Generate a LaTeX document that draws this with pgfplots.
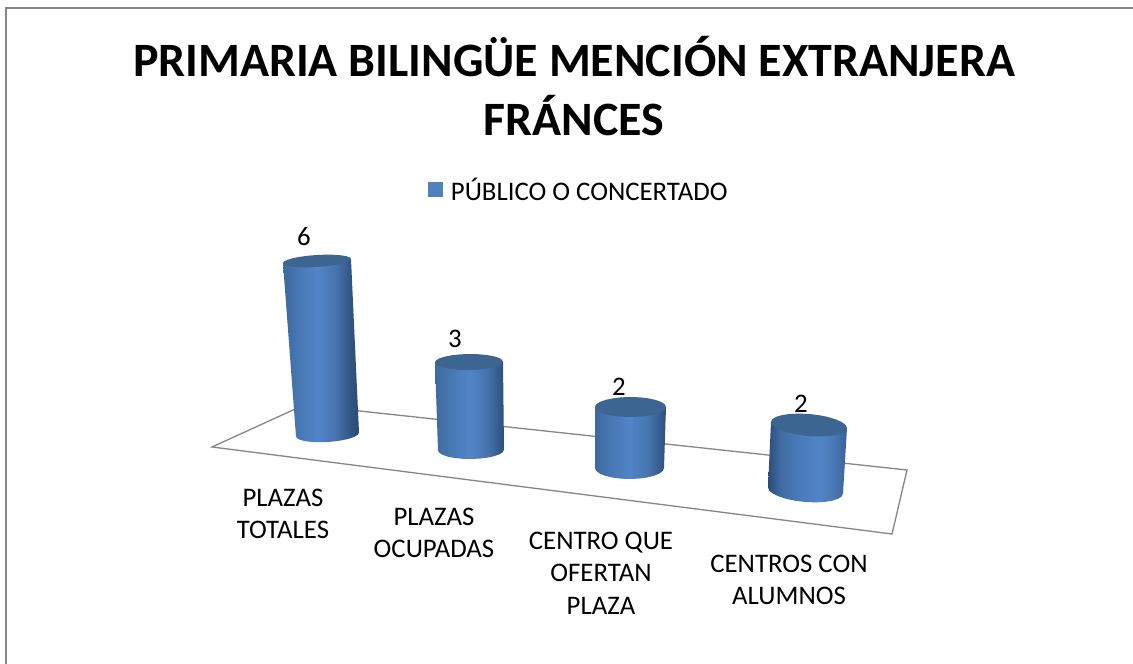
\documentclass[border=0pt]{standalone}
\usepackage{fontspec}
\setmainfont{Carlito}
\usepackage{pgfplots}
\usepackage{pgfplotstable}
\pgfplotsset{compat=1.18}

% cylinder side lighting (path spans 25bp..75bp)
\pgfdeclarehorizontalshading{cylA}{100bp}{rgb(0bp)=(.24,.41,.62); rgb(25bp)=(.24,.41,.62); rgb(34bp)=(.28,.46,.70); rgb(47bp)=(.32,.52,.78); rgb(60bp)=(.27,.45,.68); rgb(70bp)=(.19,.33,.50); rgb(75bp)=(.17,.29,.45); rgb(100bp)=(.17,.29,.45)}
\pgfdeclarehorizontalshading{cylB}{100bp}{rgb(0bp)=(.22,.38,.58); rgb(25bp)=(.24,.41,.62); rgb(36bp)=(.28,.47,.70); rgb(50bp)=(.32,.52,.78); rgb(63bp)=(.27,.45,.68); rgb(75bp)=(.18,.31,.48); rgb(100bp)=(.18,.31,.48)}
\pgfdeclarehorizontalshading{cylC}{100bp}{rgb(0bp)=(.17,.30,.47); rgb(25bp)=(.17,.30,.47); rgb(33bp)=(.25,.42,.64); rgb(45bp)=(.29,.48,.73); rgb(58bp)=(.32,.52,.78); rgb(68bp)=(.28,.46,.70); rgb(75bp)=(.22,.38,.58); rgb(100bp)=(.22,.38,.58)}
\definecolor{capcol}{HTML}{3C6592}
\definecolor{legcol}{HTML}{4F81BD}
\definecolor{framecol}{HTML}{868686}

% unit outlines: u across, v depth, t=1 at the top of the cylinder
\pgfplotstableread{
u v t
-1 0 1
-1 0 0
-0.966 -0.259 0
-0.866 -0.5 0
-0.707 -0.707 0
-0.5 -0.866 0
-0.259 -0.966 0
0 -1 0
0.259 -0.966 0
0.5 -0.866 0
0.707 -0.707 0
0.866 -0.5 0
0.966 -0.259 0
1 0 0
1 0 1
}\bodytable
\pgfplotstableread{
u v
-1 0
-0.966 0.259
-0.866 0.5
-0.707 0.707
-0.5 0.866
-0.259 0.966
0 1
0.259 0.966
0.5 0.866
0.707 0.707
0.866 0.5
0.966 0.259
1 0
0.966 -0.259
0.866 -0.5
0.707 -0.707
0.5 -0.866
0.259 -0.966
0 -1
-0.259 -0.966
-0.5 -0.866
-0.707 -0.707
-0.866 -0.5
-0.966 -0.259
}\captable

% #1 shading, #2 value, #3 px per unit, #4/#5 base centre, #6/#7 base radii, #8/#9 top x and radius
\newcommand{\cyl}[9]{
  \addplot[forget plot, draw=none, shading=#1] table[
    x expr={#4+(#8-#4)*\thisrow{t}+(#6+(#9-#6)*\thisrow{t})*\thisrow{u}},
    y expr={#5+#2*#3*\thisrow{t}+(#7+(\capH-#7)*\thisrow{t})*\thisrow{v}+\cyltilt*(#6+(#9-#6)*\thisrow{t})*\thisrow{u}}
  ] {\bodytable} -- cycle;
  \addplot[forget plot, draw=none, fill=capcol] table[
    x expr={#8+#9*\thisrow{u}},
    y expr={#5+#2*#3+\capH*\thisrow{v}+\cyltilt*#9*\thisrow{u}}
  ] {\captable} -- cycle;
}

\begin{document}
\begin{tikzpicture}
\useasboundingbox (0,0) rectangle (1133pt,664pt);
\begin{axis}[
    x=1pt, y=1pt,
    xmin=0, xmax=1133,
    ymin=0, ymax=664,
    axis lines=none,
    clip=false,
    legend style={draw=none, fill=none, at={(0.3775,0.714)}, anchor=west,
        font=\fontsize{26.8}{30}\selectfont, inner sep=0pt},
    legend cell align=left,
]

% chart frame
\addplot[forget plot, framecol, line width=1.8pt] coordinates {(6,0) (6,656) (1133,656)};

% floor
\addplot[forget plot, framecol, line width=1.3pt] coordinates {
    (304,259) (212,217) (892,130) (907,194) (304,259)
};

\def\cyltilt{0.06}\def\capH{6}
\cyl{cylA}{6}{28.92}{327.5}{229.5}{31.5}{7.5}{317}{34}
\def\cyltilt{0.01}\def\capH{8}
\cyl{cylB}{3}{29.33}{471}{214}{33}{9}{469}{34}
\def\cyltilt{0}\def\capH{10}
\cyl{cylB}{2}{30.5}{629.5}{196}{34.5}{11}{630.5}{35.5}
\def\cyltilt{-0.08}\def\capH{11}
\cyl{cylC}{2}{32.75}{805.5}{173.5}{37.5}{11.5}{809}{38}

% value labels, and the series name for the legend
\addplot[
    draw=none, mark=none,
    legend image code/.code={\fill[legcol] (0pt,-7pt) rectangle (15pt,8pt);},
    nodes near coords, point meta=explicit symbolic,
    nodes near coords style={anchor=center, inner sep=0pt, text=black,
        font=\fontsize{26.8}{30}\selectfont},
] coordinates {(304,427)[6] (455,325)[3] (619,277)[2] (801,260)[2]};
\addlegendentry{\hspace{6pt}PÚBLICO O CONCERTADO}

% title
\node[align=center, font=\fontsize{47.9}{59}\selectfont\bfseries] at (axis cs:574,578)
    {PRIMARIA BILINGÜE MENCIÓN EXTRANJERA\\FRÁNCES};

% category labels
\begin{scope}[every node/.style={align=center, font=\fontsize{26.8}{32.5}\selectfont}]
\node at (axis cs:283,150) {PLAZAS\\TOTALES};
\node at (axis cs:434,131) {PLAZAS\\OCUPADAS};
\node at (axis cs:601,91) {CENTRO QUE\\OFERTAN\\PLAZA};
\node at (axis cs:789,84) {CENTROS CON\\ALUMNOS};
\end{scope}
\end{axis}
\end{tikzpicture}
\end{document}
